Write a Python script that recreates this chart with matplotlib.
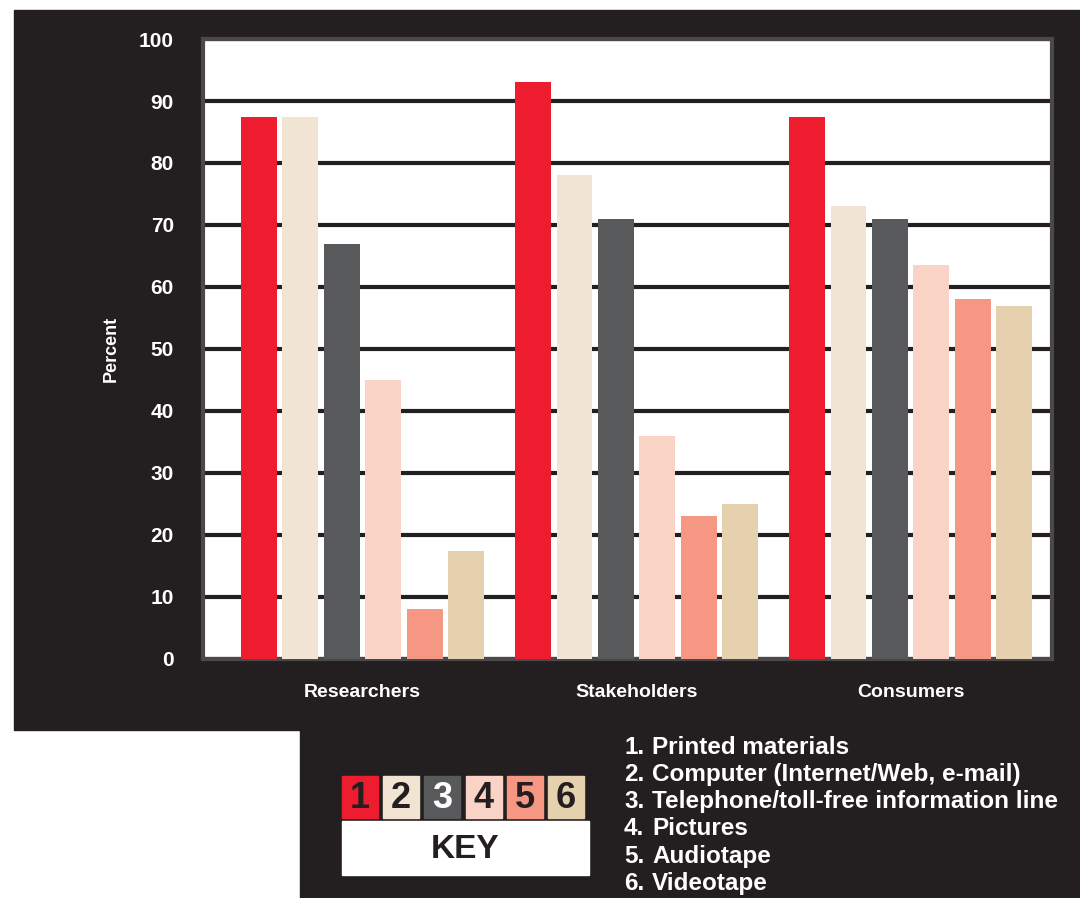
import matplotlib
matplotlib.use('Agg')
import matplotlib.pyplot as plt
from matplotlib import font_manager
from matplotlib.patches import Rectangle

# pick a narrow bold face if one is installed
names = {f.name for f in font_manager.fontManager.ttflist}
face = 'DejaVu Sans'
for cand in ['Liberation Sans Narrow', 'DejaVu Sans Condensed', 'Liberation Sans']:
    if cand in names:
        face = cand
        break
plt.rcParams['font.family'] = [face, 'DejaVu Sans']
plt.rcParams['font.weight'] = 'bold'

groups = ['Researchers', 'Stakeholders', 'Consumers']
media = ['Printed materials', 'Computer (Internet/Web, e-mail)',
         'Telephone/toll-free information line', 'Pictures',
         'Audiotape', 'Videotape']
colors = ['#ED1C2E', '#F1E4D3', '#58595B', '#F9D3C6', '#F59782', '#E6D1AE']
num_colors = ['#231F20', '#231F20', 'white', '#231F20', '#231F20', '#231F20']

printed = [87.5, 93, 87.5]
computer = [87.5, 78, 73]
telephone = [67, 71, 71]
pictures = [45, 36, 63.5]
audiotape = [8, 23, 58]
videotape = [17.5, 25, 57]
series = [printed, computer, telephone, pictures, audiotape, videotape]

dark = '#231F20'
W, H = 1080, 898
fig = plt.figure(figsize=(W / 100, H / 100), dpi=100, facecolor='white')

# dark backing panels
fig.patches.append(Rectangle((14 / W, 168 / H), 1 - 14 / W, 720 / H,
                             transform=fig.transFigure, color=dark, zorder=-5))
fig.patches.append(Rectangle((300 / W, 0), 1 - 300 / W, 168 / H,
                             transform=fig.transFigure, color=dark, zorder=-5))

ax = fig.add_axes([203 / W, (H - 659) / H, 849 / W, 620 / H])
ax.set_facecolor('white')

step = 0.151
width = 0.131
for i, vals in enumerate(series):
    xs = [g + (i - 2.5) * step for g in range(len(groups))]
    ax.bar(xs, vals, width=width, color=colors[i], zorder=3)

ax.set_xlim(-0.582, 2.516)
ax.set_ylim(0, 100)
ax.set_yticks(range(0, 101, 10))
ax.yaxis.grid(True, color=dark, linewidth=3, zorder=1)
ax.set_axisbelow(True)
ax.tick_params(axis='y', length=0, pad=21, labelsize=15, labelcolor='white')
ax.set_xticks(range(len(groups)))
ax.set_xticklabels(groups)
ax.tick_params(axis='x', length=0, pad=18, labelsize=14, labelcolor='white')
for s in ax.spines.values():
    s.set_color('#4a4848')
    s.set_linewidth(3)
ax.set_ylabel('Percent', color='white', fontsize=13, fontweight='bold',
              labelpad=14)

# key strip and list of media
ov = fig.add_axes([0, 0, 1, 1], facecolor='none')
ov.set_xlim(0, W)
ov.set_ylim(H, 0)
ov.axis('off')
for i in range(6):
    x0 = 342 + i * 41.2
    ov.add_patch(Rectangle((x0, 776), 36, 42, color=colors[i]))
    ov.text(x0 + 18, 798, str(i + 1), color=num_colors[i], fontsize=26,
            ha='center', va='center')
ov.add_patch(Rectangle((342, 821), 247, 54, color='white'))
ov.text(465.5, 849, 'KEY', color=dark, fontsize=24, ha='center', va='center')

for i, name in enumerate(media):
    y = 747 + i * 27.3
    ov.text(624, y, f'{i + 1}.', color='white', fontsize=17.5, va='center')
    ov.text(652, y, name, color='white', fontsize=17.5, va='center')

fig.savefig('out.png', dpi=100, facecolor='white')
